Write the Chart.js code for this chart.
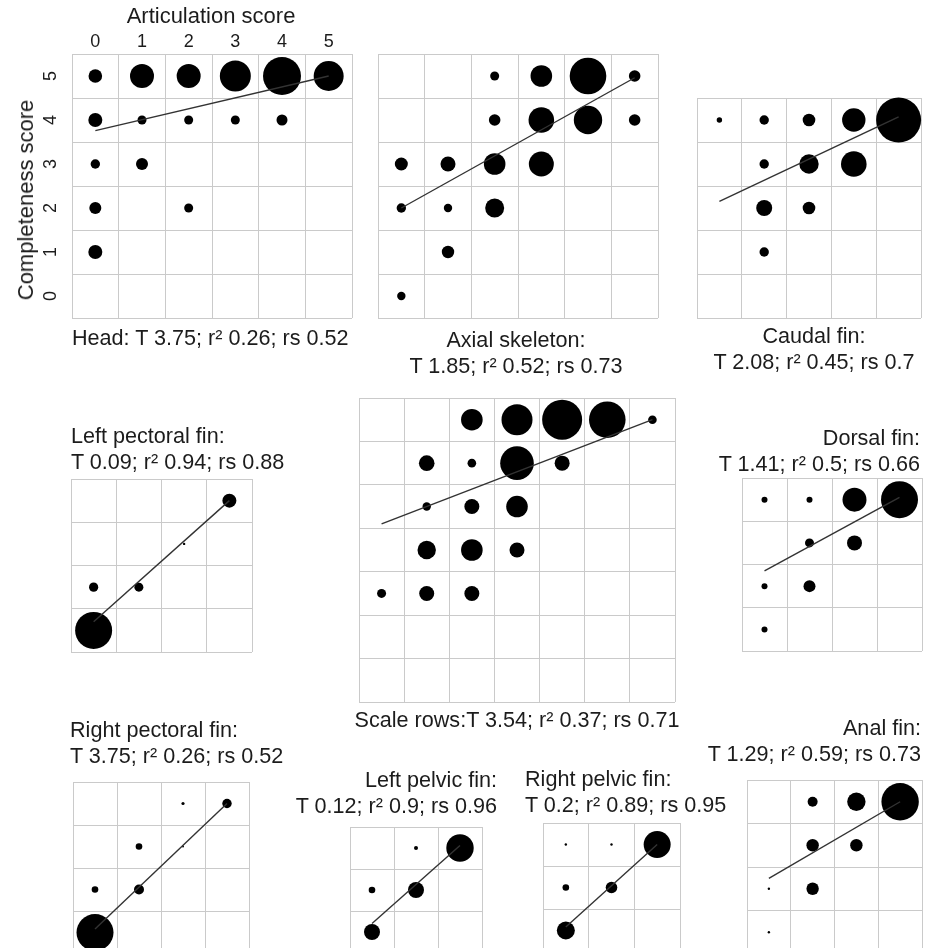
<!DOCTYPE html>
<html>
<head>
<meta charset="utf-8">
<script src="https://cdn.jsdelivr.net/npm/chart.js@4.4.0/dist/chart.umd.min.js"></script>
<style>
body { margin: 0; background: #fff; overflow: hidden; }
#page { position: relative; width: 936px; height: 948px; overflow: hidden; font-family: "Liberation Sans", Arial, sans-serif; color: #1c1c1c; }
canvas { position: absolute; }
.cap { position: absolute; font-size: 21.6px; line-height: 26px; white-space: nowrap; }
.title { position: absolute; font-size: 22px; line-height: 26px; white-space: nowrap; }
</style>
</head>
<body>
<div id="page"></div>
<script>
// tick labels of the head panel
const articulationTicks = ['0', '1', '2', '3', '4', '5'];
const completenessTicks = ['0', '1', '2', '3', '4', '5'];

// x = articulation, y = completeness, size = bubble radius, fit = trend line at first / last column
const headX = [0, 1, 2, 3, 4, 5, 0, 1, 2, 3, 4, 0, 1, 0, 2, 0];
const headY = [5, 5, 5, 5, 5, 5, 4, 4, 4, 4, 4, 3, 3, 2, 2, 1];
const headSize = [6.8, 12, 12, 15.5, 19, 15, 7, 4.5, 4.5, 4.5, 5.5, 4.7, 6, 6, 4.5, 7];
const headFit = [3.76, 5.0];

const axialX = [2, 3, 4, 5, 2, 3, 4, 5, 0, 1, 2, 3, 0, 1, 2, 1, 0];
const axialY = [5, 5, 5, 5, 4, 4, 4, 4, 3, 3, 3, 3, 2, 2, 2, 1, 0];
const axialSize = [4.5, 10.8, 18.3, 5.8, 5.8, 12.8, 14.2, 5.8, 6.5, 7.5, 10.8, 12.5, 4.7, 4.2, 9.5, 6.2, 4.2];
const axialFit = [2.0, 4.96];

const caudalX = [0, 1, 2, 3, 4, 1, 2, 3, 1, 2, 1];
const caudalY = [4, 4, 4, 4, 4, 3, 3, 3, 2, 2, 1];
const caudalSize = [2.7, 4.7, 6.3, 11.7, 22.5, 4.7, 9.7, 12.8, 8, 6.3, 4.7];
const caudalFit = [2.15, 4.07];

const lPectX = [3, 2, 0, 1, 0];
const lPectY = [3, 2, 1, 1, 0];
const lPectSize = [7, 1.2, 4.6, 4.5, 18.5];
const lPectFit = [0.2, 3.0];

const scaleX = [2, 3, 4, 5, 6, 1, 2, 3, 4, 1, 2, 3, 1, 2, 3, 0, 1, 2];
const scaleY = [6, 6, 6, 6, 6, 5, 5, 5, 5, 4, 4, 4, 3, 3, 3, 2, 2, 2];
const scaleSize = [10.8, 15.5, 20, 18.3, 4.3, 7.8, 4.3, 16.8, 7.5, 4.2, 7.5, 10.8, 9.2, 10.8, 7.5, 4.5, 7.5, 7.5];
const scaleFit = [3.6, 6.0];

const dorsalX = [0, 1, 2, 3, 1, 2, 0, 1, 0];
const dorsalY = [3, 3, 3, 3, 2, 2, 1, 1, 0];
const dorsalSize = [3, 3, 12, 18.5, 4.5, 7.5, 3, 6, 3];
const dorsalFit = [1.35, 3.05];

const rPectX = [2, 3, 1, 2, 0, 1, 0];
const rPectY = [3, 3, 2, 2, 1, 1, 0];
const rPectSize = [1.6, 4.7, 3.3, 1, 3.3, 5, 18.5];
const rPectFit = [0.08, 3.0];

const lPelvX = [1, 2, 0, 1, 0];
const lPelvY = [2, 2, 1, 1, 0];
const lPelvSize = [2, 13.7, 3.3, 8, 8];
const lPelvFit = [0.2, 2.06];

const rPelvX = [0, 1, 2, 0, 1, 0];
const rPelvY = [2, 2, 2, 1, 1, 0];
const rPelvSize = [1.2, 1.2, 13.5, 3.3, 5.8, 9];
const rPelvFit = [0.08, 2.0];

const analX = [1, 2, 3, 1, 2, 0, 1, 0];
const analY = [3, 3, 3, 2, 2, 1, 1, 0];
const analSize = [5, 9.2, 18.7, 6.2, 6.2, 1.2, 6.2, 1.2];
const analFit = [1.24, 3.0];

const page = document.getElementById('page');

// grid box on the page: left, top, width, height; n = columns, m = rows
const panels = [
  { x: headX, y: headY, size: headSize, fit: headFit, n: 6, m: 6, box: [72, 54, 280, 264], head: true },
  { x: axialX, y: axialY, size: axialSize, fit: axialFit, n: 6, m: 6, box: [378, 54, 280, 264] },
  { x: caudalX, y: caudalY, size: caudalSize, fit: caudalFit, n: 5, m: 5, box: [697, 98, 224, 220] },
  { x: lPectX, y: lPectY, size: lPectSize, fit: lPectFit, n: 4, m: 4, box: [71, 479, 181, 173] },
  { x: scaleX, y: scaleY, size: scaleSize, fit: scaleFit, n: 7, m: 7, box: [359, 398, 316, 304] },
  { x: dorsalX, y: dorsalY, size: dorsalSize, fit: dorsalFit, n: 4, m: 4, box: [742, 478, 180, 173] },
  { x: rPectX, y: rPectY, size: rPectSize, fit: rPectFit, n: 4, m: 4, box: [73, 782, 176, 172] },
  { x: lPelvX, y: lPelvY, size: lPelvSize, fit: lPelvFit, n: 3, m: 3, box: [350, 827, 132, 126] },
  { x: rPelvX, y: rPelvY, size: rPelvSize, fit: rPelvFit, n: 3, m: 3, box: [543, 823, 137, 129] },
  { x: analX, y: analY, size: analSize, fit: analFit, n: 4, m: 4, box: [747, 780, 175, 174] }
];

const captions = [
  { lines: ['Head: T 3.75; r² 0.26; rs 0.52'], x: 72, top: 325, align: 'left' },
  { lines: ['Axial skeleton:', 'T 1.85; r² 0.52; rs 0.73'], x: 516, top: 327, align: 'center' },
  { lines: ['Caudal fin:', 'T 2.08; r² 0.45; rs 0.7'], x: 814, top: 323, align: 'center' },
  { lines: ['Left pectoral fin:', 'T 0.09; r² 0.94; rs 0.88'], x: 71, top: 423, align: 'left' },
  { lines: ['Dorsal fin:', 'T 1.41; r² 0.5; rs 0.66'], x: 920, top: 425, align: 'right' },
  { lines: ['Scale rows:T 3.54; r² 0.37; rs 0.71'], x: 517, top: 707, align: 'center' },
  { lines: ['Right pectoral fin:', 'T 3.75; r² 0.26; rs 0.52'], x: 70, top: 717, align: 'left' },
  { lines: ['Anal fin:', 'T 1.29; r² 0.59; rs 0.73'], x: 921, top: 715, align: 'right' },
  { lines: ['Left pelvic fin:', 'T 0.12; r² 0.9; rs 0.96'], x: 497, top: 767, align: 'right' },
  { lines: ['Right pelvic fin:', 'T 0.2; r² 0.89; rs 0.95'], x: 525, top: 766, align: 'left' }
];

// tick labels for the head panel, placed with its own scales
const headTicks = {
  id: 'headTicks',
  afterDraw(chart) {
    const { ctx } = chart;
    const { x, y } = chart.scales;
    ctx.save();
    ctx.fillStyle = '#1c1c1c';
    ctx.font = '18px "Liberation Sans", Arial, sans-serif';
    ctx.textAlign = 'center';
    ctx.textBaseline = 'middle';
    articulationTicks.forEach((t, i) => ctx.fillText(t, x.getPixelForValue(i), 42));
    completenessTicks.forEach((t, i) => {
      ctx.save();
      ctx.translate(51.5, y.getPixelForValue(i));
      ctx.rotate(-Math.PI / 2);
      ctx.fillText(t, 0, 0);
      ctx.restore();
    });
    ctx.restore();
  }
};

function edges(n) {
  const out = [];
  for (let i = 0; i <= n; i++) out.push({ value: i - 0.5 });
  return out;
}

function makePanel(p) {
  const pad = p.head ? { left: 72, top: 54, right: 26, bottom: 26 } : { left: 26, top: 26, right: 26, bottom: 26 };
  const w = p.box[2] + pad.left + pad.right;
  const h = p.box[3] + pad.top + pad.bottom;
  const cv = document.createElement('canvas');
  cv.width = w;
  cv.height = h;
  cv.style.width = w + 'px';
  cv.style.height = h + 'px';
  cv.style.left = (p.box[0] - pad.left) + 'px';
  cv.style.top = (p.box[1] - pad.top) + 'px';
  page.appendChild(cv);

  const gridOpts = { color: '#cacaca', lineWidth: 1, drawTicks: false };
  new Chart(cv, {
    type: 'bubble',
    data: {
      datasets: [
        {
          type: 'line',
          data: [{ x: 0, y: p.fit[0] }, { x: p.n - 1, y: p.fit[1] }],
          borderColor: '#333',
          borderWidth: 1.4,
          pointRadius: 0,
          clip: false,
          order: 0
        },
        {
          data: p.x.map((v, i) => ({ x: v, y: p.y[i], r: p.size[i] })),
          backgroundColor: '#000',
          borderWidth: 0,
          clip: false,
          order: 1
        }
      ]
    },
    options: {
      responsive: false,
      animation: false,
      events: [],
      layout: { padding: pad },
      plugins: { legend: { display: false }, tooltip: { enabled: false } },
      scales: {
        x: {
          type: 'linear', min: -0.5, max: p.n - 0.5,
          afterBuildTicks: s => { s.ticks = edges(p.n); },
          ticks: { display: false }, grid: gridOpts, border: { display: false }
        },
        y: {
          type: 'linear', min: -0.5, max: p.m - 0.5,
          afterBuildTicks: s => { s.ticks = edges(p.m); },
          ticks: { display: false }, grid: gridOpts, border: { display: false }
        }
      }
    },
    plugins: p.head ? [headTicks] : []
  });
}

panels.forEach(makePanel);

captions.forEach(c => {
  const d = document.createElement('div');
  d.className = 'cap';
  d.innerHTML = c.lines.join('<br>');
  d.style.top = c.top + 'px';
  if (c.align === 'left') {
    d.style.left = c.x + 'px';
  } else if (c.align === 'right') {
    d.style.right = (936 - c.x) + 'px';
    d.style.textAlign = 'right';
  } else {
    d.style.left = (c.x - 300) + 'px';
    d.style.width = '600px';
    d.style.textAlign = 'center';
  }
  page.appendChild(d);
});

const xTitle = document.createElement('div');
xTitle.className = 'title';
xTitle.textContent = 'Articulation score';
xTitle.style.left = '11px';
xTitle.style.width = '400px';
xTitle.style.textAlign = 'center';
xTitle.style.top = '3px';
page.appendChild(xTitle);

const yTitle = document.createElement('div');
yTitle.className = 'title';
yTitle.textContent = 'Completeness score';
yTitle.style.left = '26px';
yTitle.style.top = '200px';
yTitle.style.transform = 'translate(-50%, -50%) rotate(-90deg)';
page.appendChild(yTitle);
</script>
</body>
</html>
